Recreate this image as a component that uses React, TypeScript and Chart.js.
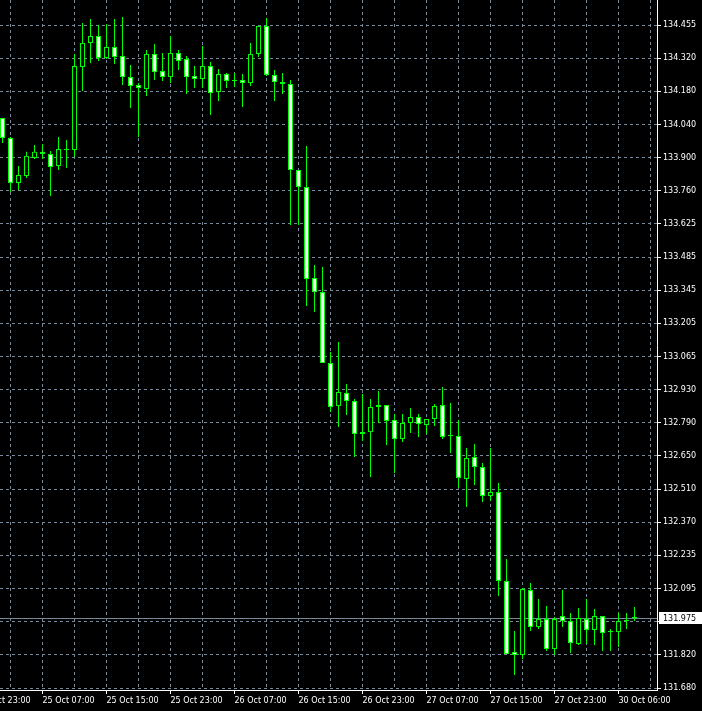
import React, { useEffect, useRef } from 'react';
import { Chart, registerables } from 'chart.js';

Chart.register(...registerables);

// Hourly candles (H1), oldest first
const OPEN = [
  134.066, 133.982, 133.794, 133.823, 133.898, 133.924, 133.915, 133.865, 133.932, 133.932,
  134.279, 134.380, 134.409, 134.317, 134.363, 134.325, 134.237, 134.204, 134.187, 134.334,
  134.262, 134.237, 134.338, 134.313, 134.242, 134.229, 134.283, 134.175, 134.250, 134.221,
  134.225, 134.212, 134.334, 134.451, 134.246, 134.216, 134.208, 133.848, 133.777, 133.396,
  133.337, 133.040, 132.860, 132.915, 132.881, 132.751, 132.751, 132.856, 132.864, 132.802,
  132.722, 132.789, 132.814, 132.781, 132.806, 132.864, 132.735, 132.735, 132.555, 132.647,
  132.605, 132.484, 132.500, 132.128, 131.831, 131.818, 132.090, 131.935, 131.969, 131.843,
  131.981, 131.960, 131.864, 131.969, 131.923, 131.981, 131.914, 131.914, 131.960, 131.973,
];
const HIGH = [
  134.066, 133.986, 133.865, 133.924, 133.953, 133.957, 133.928, 133.986, 133.974, 134.334,
  134.463, 134.480, 134.455, 134.459, 134.480, 134.488, 134.288, 134.212, 134.350, 134.375,
  134.338, 134.409, 134.350, 134.325, 134.283, 134.367, 134.300, 134.271, 134.254, 134.254,
  134.250, 134.380, 134.451, 134.484, 134.267, 134.254, 134.225, 133.848, 133.949, 133.450,
  133.442, 133.086, 133.128, 132.952, 132.890, 132.911, 132.890, 132.923, 132.864, 132.827,
  132.827, 132.852, 132.827, 132.806, 132.869, 132.940, 132.873, 132.802, 132.685, 132.701,
  132.622, 132.685, 132.538, 132.220, 131.919, 132.099, 132.119, 132.053, 132.023, 131.977,
  132.090, 131.994, 132.015, 132.053, 132.011, 131.981, 131.927, 131.994, 131.994, 132.019,
];
const LOW = [
  133.961, 133.756, 133.764, 133.815, 133.894, 133.894, 133.739, 133.848, 133.856, 133.902,
  134.179, 134.296, 134.304, 134.313, 134.292, 134.204, 134.108, 133.986, 134.158, 134.225,
  134.221, 134.212, 134.267, 134.166, 134.191, 134.191, 134.078, 134.137, 134.191, 134.195,
  134.112, 134.200, 134.321, 134.242, 134.137, 134.166, 133.618, 133.618, 133.279, 133.254,
  133.040, 132.835, 132.772, 132.823, 132.647, 132.714, 132.563, 132.789, 132.697, 132.580,
  132.710, 132.747, 132.731, 132.743, 132.777, 132.722, 132.664, 132.517, 132.438, 132.530,
  132.458, 132.463, 132.065, 131.822, 131.734, 131.801, 131.919, 131.927, 131.835, 131.818,
  131.935, 131.826, 131.860, 131.864, 131.860, 131.835, 131.835, 131.852, 131.927, 131.960,
];
const CLOSE = [
  133.982, 133.794, 133.827, 133.907, 133.924, 133.915, 133.861, 133.936, 133.932, 134.283,
  134.380, 134.409, 134.317, 134.363, 134.321, 134.237, 134.200, 134.191, 134.334, 134.258,
  134.237, 134.338, 134.304, 134.237, 134.229, 134.283, 134.170, 134.250, 134.221, 134.221,
  134.212, 134.334, 134.451, 134.246, 134.216, 134.208, 133.848, 133.777, 133.392, 133.337,
  133.040, 132.856, 132.919, 132.881, 132.743, 132.743, 132.856, 132.864, 132.798, 132.722,
  132.789, 132.814, 132.785, 132.806, 132.860, 132.731, 132.735, 132.559, 132.643, 132.605,
  132.484, 132.500, 132.128, 131.822, 131.818, 132.094, 131.935, 131.969, 131.843, 131.969,
  131.960, 131.868, 131.973, 131.923, 131.981, 131.910, 131.914, 131.960, 131.965, 131.975,
];

// Time axis labels and the candle index they sit on
const X_LABEL_POS = [-3, 5, 13, 21, 29, 37, 45, 53, 61, 69, 77];
const X_LABELS = [
  '24 Oct 23:00', '25 Oct 07:00', '25 Oct 15:00', '25 Oct 23:00', '26 Oct 07:00',
  '26 Oct 15:00', '26 Oct 23:00', '27 Oct 07:00', '27 Oct 15:00', '27 Oct 23:00', '30 Oct 06:00',
];

// Price axis labels, bottom to top
const Y_LABELS = [
  '131.680', '131.820', '131.955', '132.095', '132.235', '132.370', '132.510',
  '132.650', '132.790', '132.930', '133.065', '133.205', '133.345', '133.485',
  '133.625', '133.760', '133.900', '134.040', '134.180', '134.320', '134.455',
];

const CURRENT_PRICE = 131.975;
const CURRENT_LABEL = '131.975';

const Y_MIN = 131.67163;
const Y_MAX = 134.55964;
const X_MIN = -0.3125;
const X_MAX = 81.8125;
const GRID_FIRST = -3;
const GRID_LAST = 81;
const GRID_STEP = 4;

const GREEN = '#00ff00';
const GRID_COLOR = '#778899';
const TEXT_COLOR = '#ffffff';
const FONT_FAMILY = '"DejaVu Sans", sans-serif';
const FONT_SIZE = 8;

const bidPlugin = {
  id: 'bidLine',
  beforeDatasetsDraw(chart: any) {
    const { ctx, chartArea, scales } = chart;
    const y = Math.round(scales.y.getPixelForValue(CURRENT_PRICE)) + 0.5;
    ctx.save();
    ctx.strokeStyle = GRID_COLOR;
    ctx.lineWidth = 1;
    ctx.beginPath();
    ctx.moveTo(chartArea.left, y);
    ctx.lineTo(chartArea.right, y);
    ctx.stroke();
    ctx.restore();
  },
  afterDraw(chart: any) {
    const { ctx, chartArea, scales, width } = chart;
    const y = Math.round(scales.y.getPixelForValue(CURRENT_PRICE));
    ctx.save();
    ctx.fillStyle = '#ffffff';
    ctx.fillRect(chartArea.right + 2, y - 6, width - chartArea.right - 2, 12);
    ctx.fillStyle = '#000000';
    ctx.font = `${FONT_SIZE}px ${FONT_FAMILY}`;
    ctx.textBaseline = 'middle';
    ctx.textAlign = 'left';
    ctx.fillText(CURRENT_LABEL, chartArea.right + 6, y + 0.5);
    ctx.restore();
  },
};

export default function App() {
  const ref = useRef<HTMLCanvasElement | null>(null);

  useEffect(() => {
    document.body.style.margin = '0';
    document.body.style.background = '#000';
    const canvas = ref.current;
    if (!canvas) return;

    const bodies = OPEN.map((o, i) => ({ x: i, y: [o, CLOSE[i]] }));
    const bodyColors = OPEN.map((o, i) => (CLOSE[i] < o ? '#ffffff' : '#000000'));
    const wicks = LOW.map((l, i) => ({ x: i, y: [l, HIGH[i]] }));

    const yLo = parseFloat(Y_LABELS[0]);
    const yHi = parseFloat(Y_LABELS[Y_LABELS.length - 1]);
    const yTicks = Y_LABELS.map((_, k) => yLo + (k * (yHi - yLo)) / (Y_LABELS.length - 1));
    const xTicks: number[] = [];
    for (let v = GRID_FIRST; v <= GRID_LAST; v += GRID_STEP) xTicks.push(v);
    const labelFor = (v: number) => {
      const idx = X_LABEL_POS.indexOf(Math.round(v));
      return idx >= 0 ? X_LABELS[idx] : '';
    };

    const chart = new Chart(canvas, {
      type: 'bar',
      data: {
        datasets: [
          {
            label: 'body',
            data: bodies as any,
            backgroundColor: bodyColors,
            borderColor: GREEN,
            borderWidth: 1,
            borderSkipped: false,
            barThickness: 5,
            grouped: false,
            inflateAmount: 0,
            minBarLength: 1,
            order: 0,
          } as any,
          {
            label: 'wick',
            data: wicks as any,
            backgroundColor: GREEN,
            borderWidth: 0,
            barThickness: 1,
            grouped: false,
            inflateAmount: 0,
            order: 1,
          } as any,
        ],
      },
      options: {
        responsive: false,
        animation: false,
        devicePixelRatio: 1,
        events: [],
        layout: { padding: 0 },
        plugins: { legend: { display: false }, tooltip: { enabled: false }, title: { display: false } },
        scales: {
          x: {
            type: 'linear',
            position: 'bottom',
            min: X_MIN,
            max: X_MAX,
            offset: false,
            bounds: 'data',
            afterBuildTicks: (s: any) => {
              s.ticks = xTicks.map((v) => ({ value: v }));
            },
            afterFit: (s: any) => {
              s.height = 21;
              s.paddingLeft = 0;
              s.paddingRight = 0;
            },
            grid: {
              offset: false,
              color: GRID_COLOR,
              lineWidth: 1,
              drawTicks: true,
              tickLength: 4,
              tickColor: (ctx: any) => (labelFor(ctx.tick ? ctx.tick.value : NaN) ? TEXT_COLOR : 'rgba(0,0,0,0)'),
            },
            border: { display: true, color: TEXT_COLOR, width: 1, dash: [3, 3] },
            ticks: {
              autoSkip: false,
              maxRotation: 0,
              minRotation: 0,
              align: 'start',
              padding: 2,
              color: TEXT_COLOR,
              font: { family: FONT_FAMILY, size: FONT_SIZE },
              callback: (v: any) => labelFor(Number(v)),
            },
          },
          y: {
            type: 'linear',
            position: 'right',
            min: Y_MIN,
            max: Y_MAX,
            beginAtZero: false,
            bounds: 'data',
            afterBuildTicks: (s: any) => {
              s.ticks = yTicks.map((v) => ({ value: v }));
            },
            afterFit: (s: any) => {
              s.width = 45;
              s.paddingTop = 0;
              s.paddingBottom = 0;
            },
            grid: {
              color: GRID_COLOR,
              lineWidth: 1,
              drawTicks: true,
              tickLength: 4,
              tickColor: TEXT_COLOR,
            },
            border: { display: true, color: TEXT_COLOR, width: 1, dash: [3, 3] },
            ticks: {
              autoSkip: false,
              padding: 2,
              color: TEXT_COLOR,
              font: { family: FONT_FAMILY, size: FONT_SIZE },
              callback: (_v: any, index: number) => Y_LABELS[index],
            },
          },
        },
      } as any,
      plugins: [bidPlugin],
    });

    return () => chart.destroy();
  }, []);

  return (
    <canvas
      ref={ref}
      width={702}
      height={711}
      style={{ display: 'block', width: 702, height: 711, background: '#000' }}
    />
  );
}
